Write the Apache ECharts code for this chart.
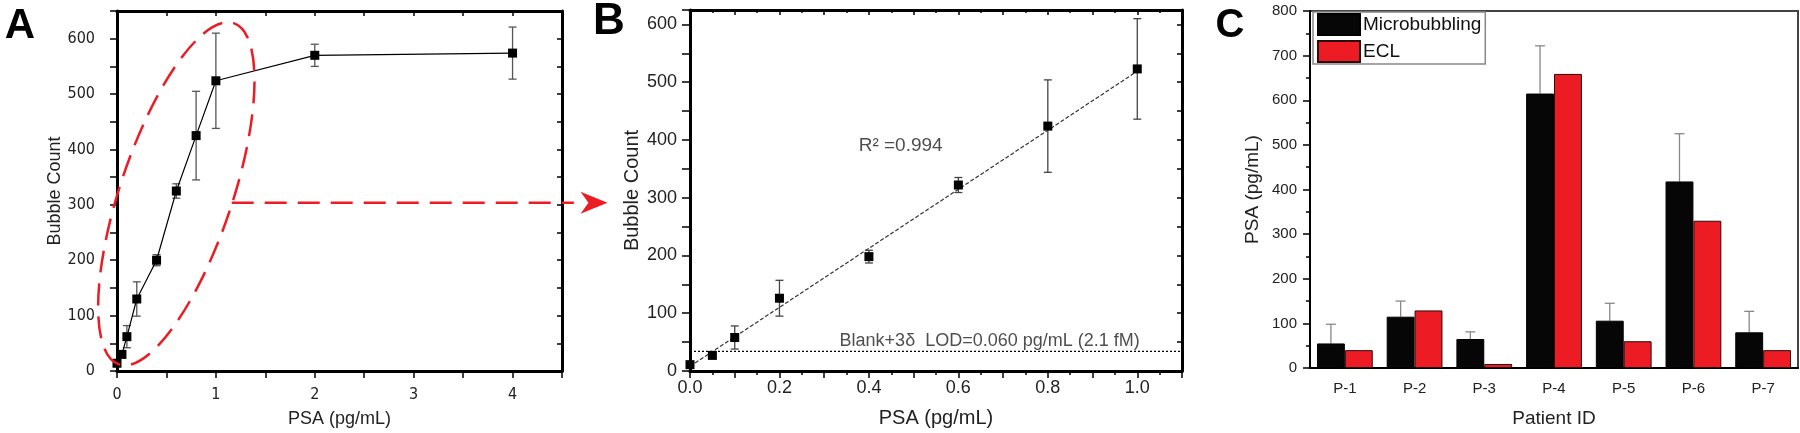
<!DOCTYPE html>
<html>
<head>
<meta charset="utf-8">
<script src="https://cdn.jsdelivr.net/npm/echarts@6/dist/echarts.min.js"></script>
<style>
  html, body { margin: 0; padding: 0; background: #fff; }
  #chart { width: 1800px; height: 433px; }
</style>
</head>
<body>
<div id="chart"></div>
<script>
// A: bubble count over the full PSA range
const psaA = [0, 0.05, 0.1, 0.2, 0.4, 0.6, 0.8, 1, 2, 4];
const countA = [14, 30, 62, 130, 200, 325, 425, 524, 570, 574];
const errA = [5, 6, 20, 31, 10, 13, 80, 86, 20, 47];

// B: linear range with fit and blank line
const psaB = [0, 0.05, 0.1, 0.2, 0.4, 0.6, 0.8, 1.0];
const countB = [11, 27, 58, 126, 198, 322, 424, 523];
const errB = [0, 3, 20, 31, 11, 13, 80, 87];
const fitB = [[0, 8], [1.0, 519]];
const blankB = 34;

// C: patient samples
const patients = ["P-1", "P-2", "P-3", "P-4", "P-5", "P-6", "P-7"];
const microbubbling = [55, 115, 65, 615, 106, 418, 80];
const microErr = [43, 35, 16, 107, 39, 107, 47];
const ecl = [40, 129, 9, 659, 60, 330, 40];

const RED = "#ed1c24";
const SANS = "'Liberation Sans', Arial, sans-serif";
const NARROW = "'Liberation Sans Narrow', 'Arial Narrow', 'DejaVu Sans Condensed', sans-serif";

const chart = echarts.init(document.getElementById("chart"));

function errorBars(cap, color, upOnly, shift) {
  return function (params, api) {
    const x = api.value(0), y = api.value(1), e = api.value(2);
    const dx = shift ? api.size([1, 0])[0] * shift : 0;
    const top = api.coord([x, y + e]);
    const bot = api.coord([x, upOnly ? y : y - e]);
    const style = { stroke: color, lineWidth: 1.3 };
    const cx = top[0] + dx;
    const kids = [
      { type: "line", shape: { x1: cx, y1: top[1], x2: cx, y2: bot[1] }, style },
      { type: "line", shape: { x1: cx - cap, y1: top[1], x2: cx + cap, y2: top[1] }, style }
    ];
    if (!upOnly) {
      kids.push({ type: "line", shape: { x1: cx - cap, y1: bot[1], x2: cx + cap, y2: bot[1] }, style });
    }
    return { type: "group", children: kids };
  };
}

const thick = { lineStyle: { color: "#000", width: 3 } };
const mirror = (grid, extra) => Object.assign({
  gridIndex: grid,
  axisLine: { show: true, onZero: false, lineStyle: { color: "#000", width: 3 } },
  axisTick: { show: true, inside: true, length: 5, lineStyle: { color: "#000", width: 1.5 } },
  axisLabel: { show: false },
  splitLine: { show: false }
}, extra);

chart.setOption({
  animation: false,
  textStyle: { fontFamily: SANS, color: "#222" },
  grid: [
    { left: 117, top: 11, width: 445, height: 361 },
    { left: 690, top: 10, width: 492, height: 363 },
    { left: 1310, top: 11, width: 488, height: 359, show: true, borderColor: "#444", borderWidth: 2 }
  ],
  xAxis: [
    {
      type: "value", gridIndex: 0, min: 0, max: 4.5, interval: 0.5,
      axisLine: Object.assign({ onZero: false }, thick),
      axisTick: { length: 7, lineStyle: { color: "#000", width: 1.5 } },
      axisLabel: { fontFamily: NARROW, fontSize: 16, color: "#222", margin: 16,
        formatter: v => (Math.abs(v - Math.round(v)) < 1e-6 ? String(Math.round(v)) : "") },
      splitLine: { show: false },
      name: "PSA (pg/mL)", nameLocation: "middle", nameGap: 39,
      nameTextStyle: { fontSize: 18, color: "#222" }
    },
    mirror(0, { type: "value", position: "top", min: 0, max: 4.5, interval: 0.5 }),
    {
      type: "value", gridIndex: 1, min: 0, max: 1.1, interval: 0.1,
      axisLine: Object.assign({ onZero: false }, thick),
      axisTick: { length: 7, lineStyle: { color: "#000", width: 1.5 } },
      minorTick: { show: true, splitNumber: 2, length: 4, lineStyle: { color: "#000", width: 1.5 } },
      axisLabel: { fontSize: 18, color: "#222", margin: 8,
        formatter: v => (Math.round(v * 10) % 2 === 0 ? v.toFixed(1) : "") },
      splitLine: { show: false },
      name: "PSA (pg/mL)", nameLocation: "middle", nameGap: 37,
      nameTextStyle: { fontSize: 20, color: "#222" }
    },
    mirror(1, { type: "value", position: "top", min: 0, max: 1.1, interval: 0.1,
      minorTick: { show: true, splitNumber: 2, length: 3, lineStyle: { color: "#000", width: 1.5 } } }),
    {
      type: "category", gridIndex: 2, data: patients,
      axisLine: { lineStyle: { color: "#000", width: 2 } },
      axisTick: { alignWithLabel: true, length: 7, lineStyle: { color: "#000", width: 1.5 } },
      axisLabel: { fontSize: 15, color: "#222", margin: 13 },
      name: "Patient ID", nameLocation: "middle", nameGap: 41,
      nameTextStyle: { fontSize: 19, color: "#222" }
    },
    {
      type: "category", gridIndex: 2, data: patients, position: "bottom", offset: 0,
      axisLine: { show: false },
      axisTick: { length: 4, lineStyle: { color: "#000", width: 1.5 } },
      axisLabel: { show: false }
    }
  ],
  yAxis: [
    {
      type: "value", gridIndex: 0, min: 0, max: 650, interval: 50,
      axisLine: Object.assign({ show: true, onZero: false }, thick),
      axisTick: { show: true, length: 7, lineStyle: { color: "#000", width: 1.5 } },
      axisLabel: { fontFamily: NARROW, fontSize: 16, color: "#222", margin: 22,
        formatter: v => (v % 100 === 0 ? String(v) : "") },
      splitLine: { show: false },
      name: "Bubble Count", nameLocation: "middle", nameGap: 52,
      nameTextStyle: { fontSize: 18, color: "#222" }
    },
    mirror(0, { type: "value", position: "right", min: 0, max: 650, interval: 50 }),
    {
      type: "value", gridIndex: 1, min: 0, max: 625, interval: 50,
      axisLine: Object.assign({ show: true, onZero: false }, thick),
      axisTick: { show: true, length: 8, lineStyle: { color: "#000", width: 1.5 } },
      axisLabel: { fontSize: 18, color: "#222", margin: 13,
        formatter: v => (v % 100 === 0 ? String(v) : "") },
      splitLine: { show: false },
      name: "Bubble Count", nameLocation: "middle", nameGap: 48,
      nameTextStyle: { fontSize: 20, color: "#222" }
    },
    mirror(1, { type: "value", position: "right", min: 0, max: 625, interval: 50 }),
    {
      type: "value", gridIndex: 2, min: 0, max: 800, interval: 100,
      axisLine: { show: true, lineStyle: { color: "#000", width: 2 } },
      axisTick: { show: true, length: 7, lineStyle: { color: "#000", width: 1.5 } },
      minorTick: { show: true, splitNumber: 2, length: 4, lineStyle: { color: "#000", width: 1.5 } },
      axisLabel: { fontSize: 15, color: "#222", margin: 13 },
      splitLine: { show: false },
      name: "PSA (pg/mL)", nameLocation: "middle", nameGap: 48,
      nameTextStyle: { fontSize: 19, color: "#222" }
    }
  ],
  legend: {
    data: ["Microbubbling", "ECL"],
    orient: "vertical", left: 1313, top: 12,
    icon: "rect",
    itemWidth: 42, itemHeight: 21, itemGap: 4,
    padding: [1, 4, 1, 4],
    borderColor: "#888", borderWidth: 1.5,
    textStyle: { fontSize: 19, color: "#111", padding: [0, 0, 0, -2] }
  },
  series: [
    // A
    {
      type: "custom", xAxisIndex: 0, yAxisIndex: 0, z: 3,
      renderItem: errorBars(4, "#555", false),
      data: psaA.map((x, i) => [x, countA[i], errA[i]])
    },
    {
      type: "line", xAxisIndex: 0, yAxisIndex: 0, z: 4,
      data: psaA.map((x, i) => [x, countA[i]]),
      symbol: "rect", symbolSize: 9, showSymbol: true,
      itemStyle: { color: "#000", opacity: 1 }, lineStyle: { color: "#000", width: 1.2 }
    },
    // B
    {
      type: "line", xAxisIndex: 2, yAxisIndex: 2, z: 2,
      data: fitB, symbol: "none",
      lineStyle: { color: "#333", width: 1.2, type: [4, 2] }
    },
    {
      type: "line", xAxisIndex: 2, yAxisIndex: 2, z: 2,
      data: [[0, blankB], [1.1, blankB]], symbol: "none",
      lineStyle: { color: "#000", width: 1.3, type: [2, 2] }
    },
    {
      type: "custom", xAxisIndex: 2, yAxisIndex: 2, z: 3,
      renderItem: errorBars(4, "#444", false),
      data: psaB.map((x, i) => [x, countB[i], errB[i]])
    },
    {
      type: "scatter", xAxisIndex: 2, yAxisIndex: 2, z: 4,
      data: psaB.map((x, i) => [x, countB[i]]),
      symbol: "rect", symbolSize: 9, itemStyle: { color: "#000", opacity: 1 }
    },
    {
      type: "scatter", xAxisIndex: 2, yAxisIndex: 2, z: 5, symbolSize: 0, silent: true,
      data: [
        { value: [0.471, 390], label: { formatter: "R\u00b2 =0.994", position: "inside" } },
        { value: [0.67, blankB], label: { formatter: "Blank+3\u03b4  LOD=0.060 pg/mL (2.1 fM)", position: "top", distance: 1, fontSize: 18 } }
      ],
      label: { show: true, fontSize: 19, color: "#222" }
    },
    // C
    {
      name: "Microbubbling", type: "bar", xAxisIndex: 4, yAxisIndex: 4,
      data: microbubbling, barGap: "0%", barCategoryGap: "20%",
      itemStyle: { color: "#060606", borderColor: "#000", borderWidth: 1 }
    },
    {
      name: "ECL", type: "bar", xAxisIndex: 4, yAxisIndex: 4,
      data: ecl, barGap: "0%", barCategoryGap: "20%",
      itemStyle: { color: RED, borderColor: "#2a0a0a", borderWidth: 1 }
    },
    {
      type: "custom", xAxisIndex: 4, yAxisIndex: 4, z: 1,
      renderItem: errorBars(5, "#888", true, -0.2),
      data: patients.map((p, i) => [i, microbubbling[i], microErr[i]])
    }
  ]
});

// annotations: letters, dashed ellipse and arrow (anchored to panel A's axes)
const px = (x, y) => chart.convertToPixel({ gridIndex: 0 }, [x, y]);
const centre = px(0.60, 320);
const lineStart = px(1.16, 304);
const lineEnd = px(4.62, 304);
const tip = px(4.96, 304);
const dash = { stroke: RED, lineWidth: 2.5, lineDash: [22, 11], fill: null };
const letter = (t, x, y, size) => ({
  type: "text", x, y,
  style: { text: t, font: "bold " + size + "px " + SANS, fill: "#000", textAlign: "center", textVerticalAlign: "middle" }
});

chart.setOption({
  graphic: [
    letter("A", 20, 26, 42),
    letter("B", 609, 22, 44),
    letter("C", 1230, 26, 40),
    {
      type: "ellipse", x: centre[0], y: centre[1], rotation: 71.4 * Math.PI / 180,
      shape: { cx: 0, cy: 0, rx: 180, ry: 56 }, style: dash, z: 10
    },
    {
      type: "line", shape: { x1: lineStart[0], y1: lineStart[1], x2: lineEnd[0], y2: lineEnd[1] },
      style: dash, z: 10
    },
    {
      type: "polygon", z: 10,
      shape: { points: [[tip[0], tip[1]], [tip[0] - 27, tip[1] - 11], [tip[0] - 19, tip[1]], [tip[0] - 27, tip[1] + 11]] },
      style: { fill: RED, stroke: null }
    }
  ]
});
</script>
</body>
</html>
